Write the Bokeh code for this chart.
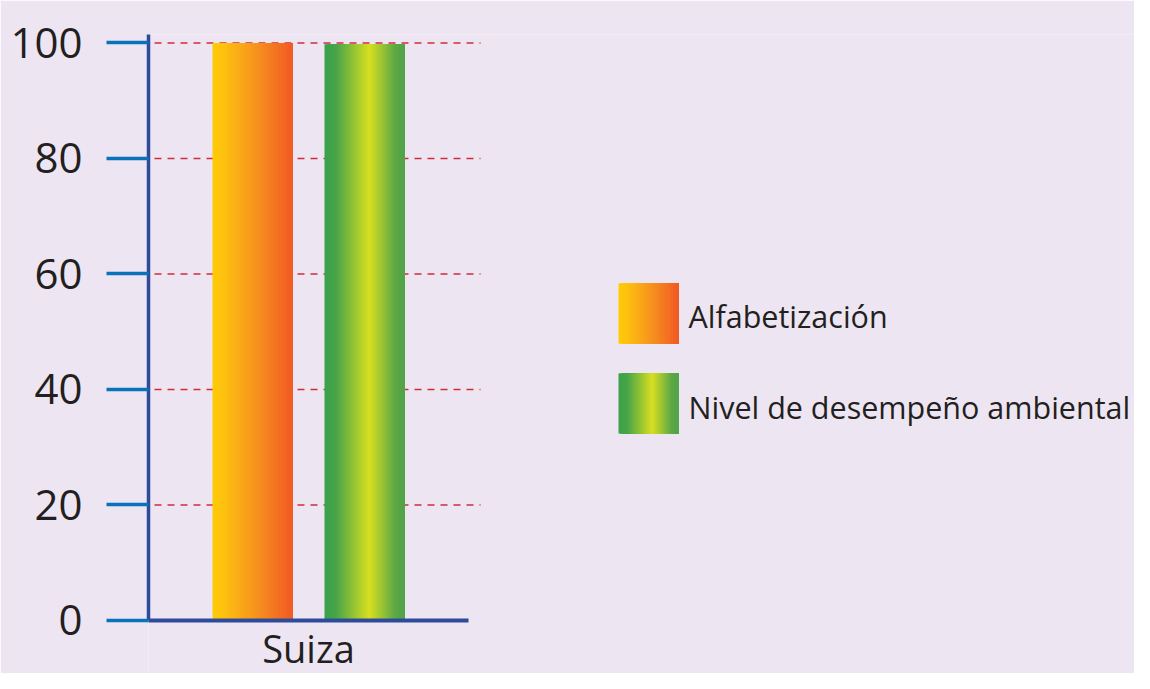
from bokeh.plotting import figure
from bokeh.models import Range1d, FixedTicker, ColumnDataSource
from bokeh.core.properties import value
from bokeh.embed import file_html
from bokeh.resources import INLINE

# ---------------- data ----------------
categories = ["Suiza"]
series_names = ["Alfabetización", "Nivel de desempeño ambiental"]
alfabetizacion = [100.0]
desempeno_ambiental = [99.8]
y_ticks = [0, 20, 40, 60, 80, 100]

# gradient colour stops (fraction across the bar, colour)
orange_stops = [(0.0, "#FFCB05"), (0.15, "#FDC010"), (0.55, "#F6921E"), (1.0, "#F15A24")]
green_stops = [(0.0, "#39A04A"), (0.15, "#4AA548"), (0.56, "#D8DF21"), (0.88, "#5DA846"), (1.0, "#4FA348")]
series_values = [alfabetizacion, desempeno_ambiental]
series_stops = [orange_stops, green_stops]

# ---------------- style ----------------
BG = "#EDE6F2"
AXIS_COLOR = "#2E4A9B"
TICK_COLOR = "#0A72BA"
GRID_COLOR = "#D02C3C"
TEXT_COLOR = "#231F20"
FONT = "Open Sans"

BAR_W = 1.0
BAR_STEP = 1.4
GROUP_STEP = 4.0
N_STRIPS = 60
Y_TOP = 101.47
Y_BOTTOM = -9.18   # room below the zero line for the category names


def hex_rgb(h):
    h = h.lstrip("#")
    return tuple(int(h[i:i + 2], 16) for i in (0, 2, 4))


def interp(stops, t):
    for (p0, c0), (p1, c1) in zip(stops[:-1], stops[1:]):
        if p0 <= t <= p1:
            f = (t - p0) / (p1 - p0) if p1 > p0 else 0
            a, b = hex_rgb(c0), hex_rgb(c1)
            r = [round(a[k] + (b[k] - a[k]) * f) for k in range(3)]
            return "#%02X%02X%02X" % tuple(r)
    return stops[-1][1]


def gradient_strips(left, width, bottom, top, stops, data):
    for j in range(N_STRIPS):
        data["left"].append(left + width * j / N_STRIPS)
        data["right"].append(left + width)
        data["bottom"].append(bottom)
        data["top"].append(top)
        data["color"].append(interp(stops, (j + 0.5) / N_STRIPS))


p = figure(width=1134, height=673, output_backend="svg", toolbar_location=None,
           x_range=Range1d(-2.0, 10.325), y_range=Range1d(Y_BOTTOM, Y_TOP),
           min_border_left=148, min_border_right=0, min_border_top=34, min_border_bottom=0,
           background_fill_color=BG, border_fill_color=BG, outline_line_color=None)
p.xgrid.visible = False
p.ygrid.visible = False

# dashed guide lines at the y ticks
grid_ticks = [t for t in y_ticks if t > 0]
p.segment(x0=[-1.925] * len(grid_ticks), x1=[2.15] * len(grid_ticks), y0=grid_ticks, y1=grid_ticks,
          line_color=GRID_COLOR, line_width=1.5, line_dash="7 6")

# bars with horizontal gradients
bars = dict(left=[], right=[], bottom=[], top=[], color=[])
centers = []
for ci, cat in enumerate(categories):
    centers.append(ci * GROUP_STEP)
    for si, vals in enumerate(series_values):
        center = ci * GROUP_STEP + (si - (len(series_values) - 1) / 2) * BAR_STEP
        gradient_strips(center - BAR_W / 2, BAR_W, 0, vals[ci], series_stops[si], bars)
p.quad(left="left", right="right", bottom="bottom", top="top", fill_color="color",
       line_color=None, source=ColumnDataSource(bars))

# legend
LEG_X, LEG_W = 3.875, 0.75
leg_rows = [(47.97, 58.35), (32.38, 42.77)]
leg = dict(left=[], right=[], bottom=[], top=[], color=[])
for si, (b, t) in enumerate(leg_rows):
    gradient_strips(LEG_X, LEG_W, b, t, series_stops[si], leg)
p.quad(left="left", right="right", bottom="bottom", top="top", fill_color="color",
       line_color=None, source=ColumnDataSource(leg))
p.text(x=[LEG_X + LEG_W + 0.125] * 2, y=[52.8, 36.9], text=series_names,
       text_font=value(FONT), text_font_size=value("30.5px"), text_baseline="middle",
       text_color=TEXT_COLOR)

# y axis
ya = p.yaxis[0]
ya.ticker = FixedTicker(ticks=y_ticks)
ya.bounds = (0, Y_TOP)
ya.axis_line_color = AXIS_COLOR
ya.axis_line_width = 3.5
ya.major_tick_line_color = TICK_COLOR
ya.major_tick_line_width = 3.5
ya.major_tick_out = 42
ya.major_tick_in = 0
ya.minor_tick_line_color = None
ya.major_label_standoff = 24
ya.major_label_text_font = FONT
ya.major_label_text_font_size = "42px"
ya.major_label_text_color = TEXT_COLOR

# x axis, drawn on the zero line
xa = p.xaxis[0]
xa.fixed_location = 0
xa.ticker = FixedTicker(ticks=centers)
xa.major_label_overrides = {c: cat for c, cat in zip(centers, categories)}
xa.bounds = (-2.0, 1.975)
xa.axis_line_color = AXIS_COLOR
xa.axis_line_width = 4
xa.axis_line_cap = "square"
xa.major_tick_line_color = None
xa.minor_tick_line_color = None
xa.major_tick_out = 0
xa.major_tick_in = 0
xa.major_label_standoff = 2
xa.major_label_text_font = FONT
xa.major_label_text_font_size = "38px"
xa.major_label_text_color = TEXT_COLOR

open("out.html", "w").write(file_html(p, INLINE))
